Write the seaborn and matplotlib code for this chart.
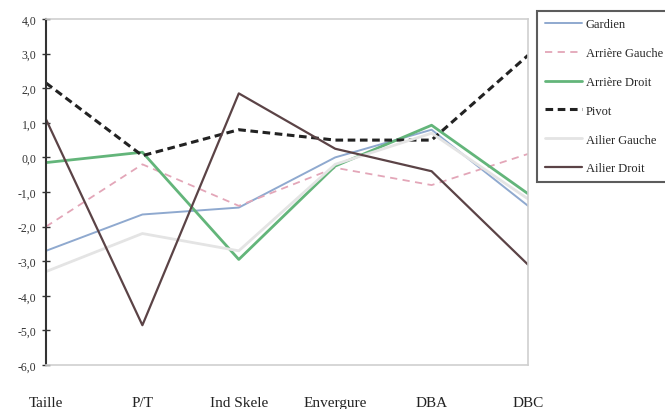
import matplotlib
matplotlib.use("Agg")
import matplotlib.pyplot as plt
import seaborn as sns
import pandas as pd

# Profile categories (x axis)
categories = ["Taille", "P/T", "Ind Skele", "Envergure", "DBA", "DBC"]

# Standardised scores per playing position
gardien = [-2.7, -1.65, -1.45, 0.0, 0.8, -1.4]
arriere_gauche = [-2.0, -0.2, -1.4, -0.3, -0.8, 0.1]
arriere_droit = [-0.15, 0.15, -2.95, -0.25, 0.93, -1.05]
pivot = [2.15, 0.05, 0.8, 0.5, 0.5, 2.95]
ailier_gauche = [-3.3, -2.2, -2.7, -0.2, 0.7, -1.2]
ailier_droit = [1.1, -4.85, 1.85, 0.25, -0.4, -3.1]

y_ticks = [4, 3, 2, 1, 0, -1, -2, -3, -4, -5, -6]
y_tick_labels = ["4,0", "3,0", "2,0", "1,0", "0,0", "-1,0", "-2,0",
                 "-3,0", "-4,0", "-5,0", "-6,0"]

series = [
    ("Gardien", gardien, "#8fa9cf", "-", 1.4),
    ("Arrière Gauche", arriere_gauche, "#e3a6b8", (0, (4, 3)), 1.3),
    ("Arrière Droit", arriere_droit, "#63b57a", "-", 2.0),
    ("Pivot", pivot, "#222222", (0, (2.5, 1.5)), 2.2),
    ("Ailier Gauche", ailier_gauche, "#e4e4e4", "-", 2.0),
    ("Ailier Droit", ailier_droit, "#5b4346", "-", 1.6),
]

sns.set_theme(style="white")
plt.rcParams["font.family"] = ["Liberation Serif", "DejaVu Serif"]

fig = plt.figure(figsize=(6.65, 4.10), dpi=100)
ax = fig.add_axes([46 / 665, 1 - 366 / 410, (528 - 46) / 665, (366 - 20) / 410])

xpos = list(range(len(categories)))
for name, values, color, ls, lw in series:
    df = pd.DataFrame({"x": xpos, "y": values})
    sns.lineplot(data=df, x="x", y="y", ax=ax, color=color, linestyle=ls,
                 linewidth=lw, label=name)

ax.set_xlim(0, len(categories) - 1)
ax.set_ylim(-6, 4)
ax.set_xticks(xpos)
ax.set_xticklabels(categories, fontsize=11)
ax.set_yticks(y_ticks)
ax.set_yticklabels(y_tick_labels, fontsize=8.5)
ax.set_xlabel("")
ax.set_ylabel("")
ax.tick_params(axis="x", length=0, pad=22, colors="#222222")
ax.tick_params(axis="y", direction="inout", length=6, width=1.0,
               color="#333333", left=True, pad=4, labelcolor="#333333")

ax.spines["left"].set_color("#333333")
ax.spines["left"].set_linewidth(1.5)
for s in ["top", "right", "bottom"]:
    ax.spines[s].set_color("#cfcfcf")
    ax.spines[s].set_linewidth(1.2)

leg = ax.legend(loc="upper left", bbox_to_anchor=(537 / 665, 1 - 12 / 410),
                bbox_transform=fig.transFigure, fontsize=9, frameon=True,
                handlelength=3.0, handletextpad=0.3, labelspacing=1.34,
                borderpad=0.6, fancybox=False, borderaxespad=0)
leg.get_frame().set_edgecolor("#333333")
leg.get_frame().set_linewidth(1.5)

fig.savefig("out.png", dpi=100)
